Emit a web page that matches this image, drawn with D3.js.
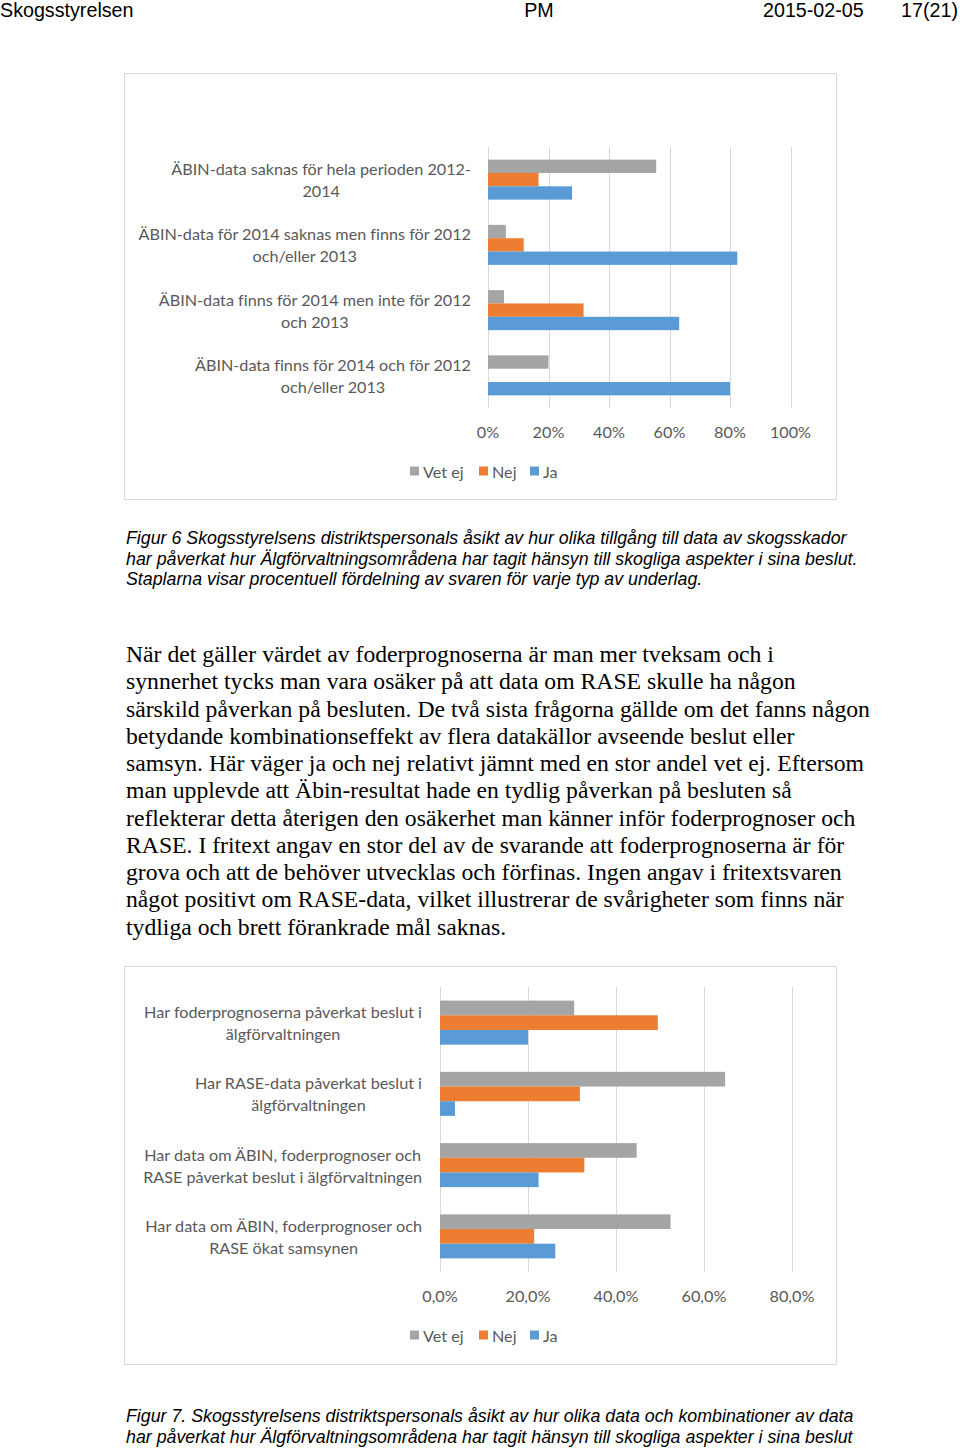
<!DOCTYPE html>
<html><head><meta charset="utf-8">
<script src="https://cdn.jsdelivr.net/npm/d3@7"></script>
<style>body{margin:0;background:#fff;} svg{display:block;} text{font-variant-ligatures:none;}</style>
</head><body>
<svg id="page" width="960" height="1449"></svg>
<script>
// ---- Data ----
const series = ["Vet ej", "Nej", "Ja"];
const colors = ["#a5a5a5", "#ed7d31", "#5b9bd5"];

const cats1 = [
  ["ÄBIN-data saknas för hela perioden 2012-", "2014"],
  ["ÄBIN-data för 2014 saknas men finns för 2012", "och/eller 2013"],
  ["ÄBIN-data finns för 2014 men inte för 2012", "och 2013"],
  ["ÄBIN-data finns för 2014 och för 2012", "och/eller 2013"]
];
const vetej1 = [55.6, 5.9, 5.3, 20.0];
const nej1 = [16.7, 11.8, 31.6, 0];
const ja1 = [27.8, 82.4, 63.2, 80.0];
const ticks1 = [0, 20, 40, 60, 80, 100];
const tickLabels1 = ["0%", "20%", "40%", "60%", "80%", "100%"];

const cats2 = [
  ["Har foderprognoserna påverkat beslut i", "älgförvaltningen"],
  ["Har RASE-data påverkat beslut i", "älgförvaltningen"],
  ["Har data om ÄBIN, foderprognoser och", "RASE påverkat beslut i älgförvaltningen"],
  ["Har data om ÄBIN, foderprognoser och", "RASE ökat samsynen"]
];
const vetej2 = [30.5, 64.8, 44.7, 52.4];
const nej2 = [49.5, 31.8, 32.8, 21.4];
const ja2 = [20.0, 3.4, 22.4, 26.2];
const ticks2 = [0, 20, 40, 60, 80];
const tickLabels2 = ["0,0%", "20,0%", "40,0%", "60,0%", "80,0%"];

const header = [
  {t: "Skogsstyrelsen", x: 0, a: "start"},
  {t: "PM", x: 539, a: "middle"},
  {t: "2015-02-05", x: 763, a: "start"},
  {t: "17(21)", x: 958, a: "end"}
];
const caption6 = [
  "Figur 6 Skogsstyrelsens distriktspersonals åsikt av hur olika tillgång till data av skogsskador",
  "har påverkat hur Älgförvaltningsområdena har tagit hänsyn till skogliga aspekter i sina beslut.",
  "Staplarna visar procentuell fördelning av svaren för varje typ av underlag."
];
const bodyText = [
  "När det gäller värdet av foderprognoserna är man mer tveksam och i",
  "synnerhet tycks man vara osäker på att data om RASE skulle ha någon",
  "särskild påverkan på besluten. De två sista frågorna gällde om det fanns någon",
  "betydande kombinationseffekt av flera datakällor avseende beslut eller",
  "samsyn. Här väger ja och nej relativt jämnt med en stor andel vet ej. Eftersom",
  "man upplevde att Äbin-resultat hade en tydlig påverkan på besluten så",
  "reflekterar detta återigen den osäkerhet man känner inför foderprognoser och",
  "RASE. I fritext angav en stor del av de svarande att foderprognoserna är för",
  "grova och att de behöver utvecklas och förfinas. Ingen angav i fritextsvaren",
  "något positivt om RASE-data, vilket illustrerar de svårigheter som finns när",
  "tydliga och brett förankrade mål saknas."
];
const caption7 = [
  "Figur 7. Skogsstyrelsens distriktspersonals åsikt av hur olika data och kombinationer av data",
  "har påverkat hur Älgförvaltningsområdena har tagit hänsyn till skogliga aspekter i sina beslut"
];

// ---- Drawing ----
const svg = d3.select("#page");
const txtCol = "#595959";
const chartFont = "Lato, 'Open Sans', sans-serif";
const chartSize = 16.2;

svg.selectAll("text.hdr").data(header).join("text")
  .attr("class", "hdr")
  .attr("x", d => d.x).attr("y", 17)
  .attr("text-anchor", d => d.a)
  .attr("font-family", "'Liberation Sans', Arial, sans-serif")
  .attr("font-size", 19.7).attr("fill", "#000")
  .text(d => d.t);

function drawChart(cfg) {
  const g = svg.append("g");
  g.append("rect")
    .attr("x", cfg.box[0] + 0.5).attr("y", cfg.box[1] + 0.5)
    .attr("width", cfg.box[2] - cfg.box[0]).attr("height", cfg.box[3] - cfg.box[1])
    .attr("fill", "#fff").attr("stroke", "#d9d9d9").attr("stroke-width", 1);

  const x = d3.scaleLinear().domain(cfg.domain).range([cfg.x0, cfg.x1]);
  const pad = cfg.pad;
  const y = d3.scaleBand().domain(d3.range(cfg.cats.length))
    .range([cfg.y0, cfg.y1]).paddingInner(pad).paddingOuter(pad / 2);
  const ys = d3.scaleBand().domain(series).range([0, y.bandwidth()]);

  g.selectAll("line.grid").data(cfg.ticks).join("line")
    .attr("x1", d => Math.round(x(d)) + 0.5).attr("x2", d => Math.round(x(d)) + 0.5)
    .attr("y1", cfg.y0).attr("y2", cfg.y1)
    .attr("stroke", "#d9d9d9").attr("stroke-width", 1);

  g.selectAll("text.tick").data(cfg.ticks).join("text")
    .attr("x", d => x(d)).attr("y", cfg.tickY)
    .attr("text-anchor", "middle").attr("dominant-baseline", "central")
    .attr("font-family", chartFont).attr("font-size", chartSize).attr("fill", txtCol)
    .text((d, i) => cfg.tickLabels[i]);

  const rows = [];
  cfg.cats.forEach((c, i) => {
    series.forEach((s, j) => rows.push({i, s, j, v: cfg.values[j][i]}));
  });
  g.selectAll("rect.bar").data(rows).join("rect")
    .attr("x", x(0))
    .attr("y", d => y(d.i) + ys(d.s))
    .attr("width", d => Math.max(0, x(d.v) - x(0)))
    .attr("height", ys.bandwidth())
    .attr("fill", d => colors[d.j]);

  cfg.cats.forEach((lines, i) => {
    const cy = y(i) + y.bandwidth() / 2;
    const t = g.append("g");
    const texts = t.selectAll("text").data(lines).join("text")
      .attr("y", (d, k) => cy + (k - (lines.length - 1) / 2) * 22)
      .attr("dominant-baseline", "central")
      .attr("text-anchor", "middle")
      .attr("font-family", chartFont).attr("font-size", chartSize).attr("fill", txtCol)
      .text(d => d);
    let maxW = 0;
    texts.each(function () { maxW = Math.max(maxW, this.getComputedTextLength()); });
    texts.attr("x", cfg.labelRight - maxW / 2);
  });

  const legX = [410, 479, 530];
  series.forEach((s, j) => {
    g.append("rect").attr("x", legX[j]).attr("y", cfg.legY - 4.5)
      .attr("width", 9).attr("height", 9).attr("fill", colors[j]);
    g.append("text").attr("x", legX[j] + 13).attr("y", cfg.legY)
      .attr("dominant-baseline", "central")
      .attr("font-family", chartFont).attr("font-size", chartSize).attr("fill", txtCol)
      .text(s);
  });
}

drawChart({
  box: [124, 73, 836, 499],
  cats: cats1, values: [vetej1, nej1, ja1],
  domain: [0, 100], x0: 488, x1: 790.5,
  y0: 147, y1: 408, pad: 0.387,
  ticks: ticks1, tickLabels: tickLabels1, tickY: 431,
  labelRight: 471, legY: 471
});

drawChart({
  box: [124, 966, 836, 1364],
  cats: cats2, values: [vetej2, nej2, ja2],
  domain: [0, 80], x0: 440, x1: 792,
  y0: 987, y1: 1272, pad: 0.382,
  ticks: ticks2, tickLabels: tickLabels2, tickY: 1295,
  labelRight: 422, legY: 1335
});

function para(lines, x, y0, dy, font, size, style) {
  svg.append("g").selectAll("text").data(lines).join("text")
    .attr("x", x).attr("y", (d, i) => y0 + i * dy)
    .attr("font-family", font).attr("font-size", size)
    .attr("font-style", style).attr("fill", "#000")
    .text(d => d);
}
para(caption6, 126, 544, 20.6, "'Liberation Sans', Arial, sans-serif", 17.8, "italic");
para(bodyText, 126, 662, 27.25, "'Liberation Serif', 'Times New Roman', serif", 23.7, "normal");
para(caption7, 126, 1422, 20.6, "'Liberation Sans', Arial, sans-serif", 17.8, "italic");
</script>
</body></html>
